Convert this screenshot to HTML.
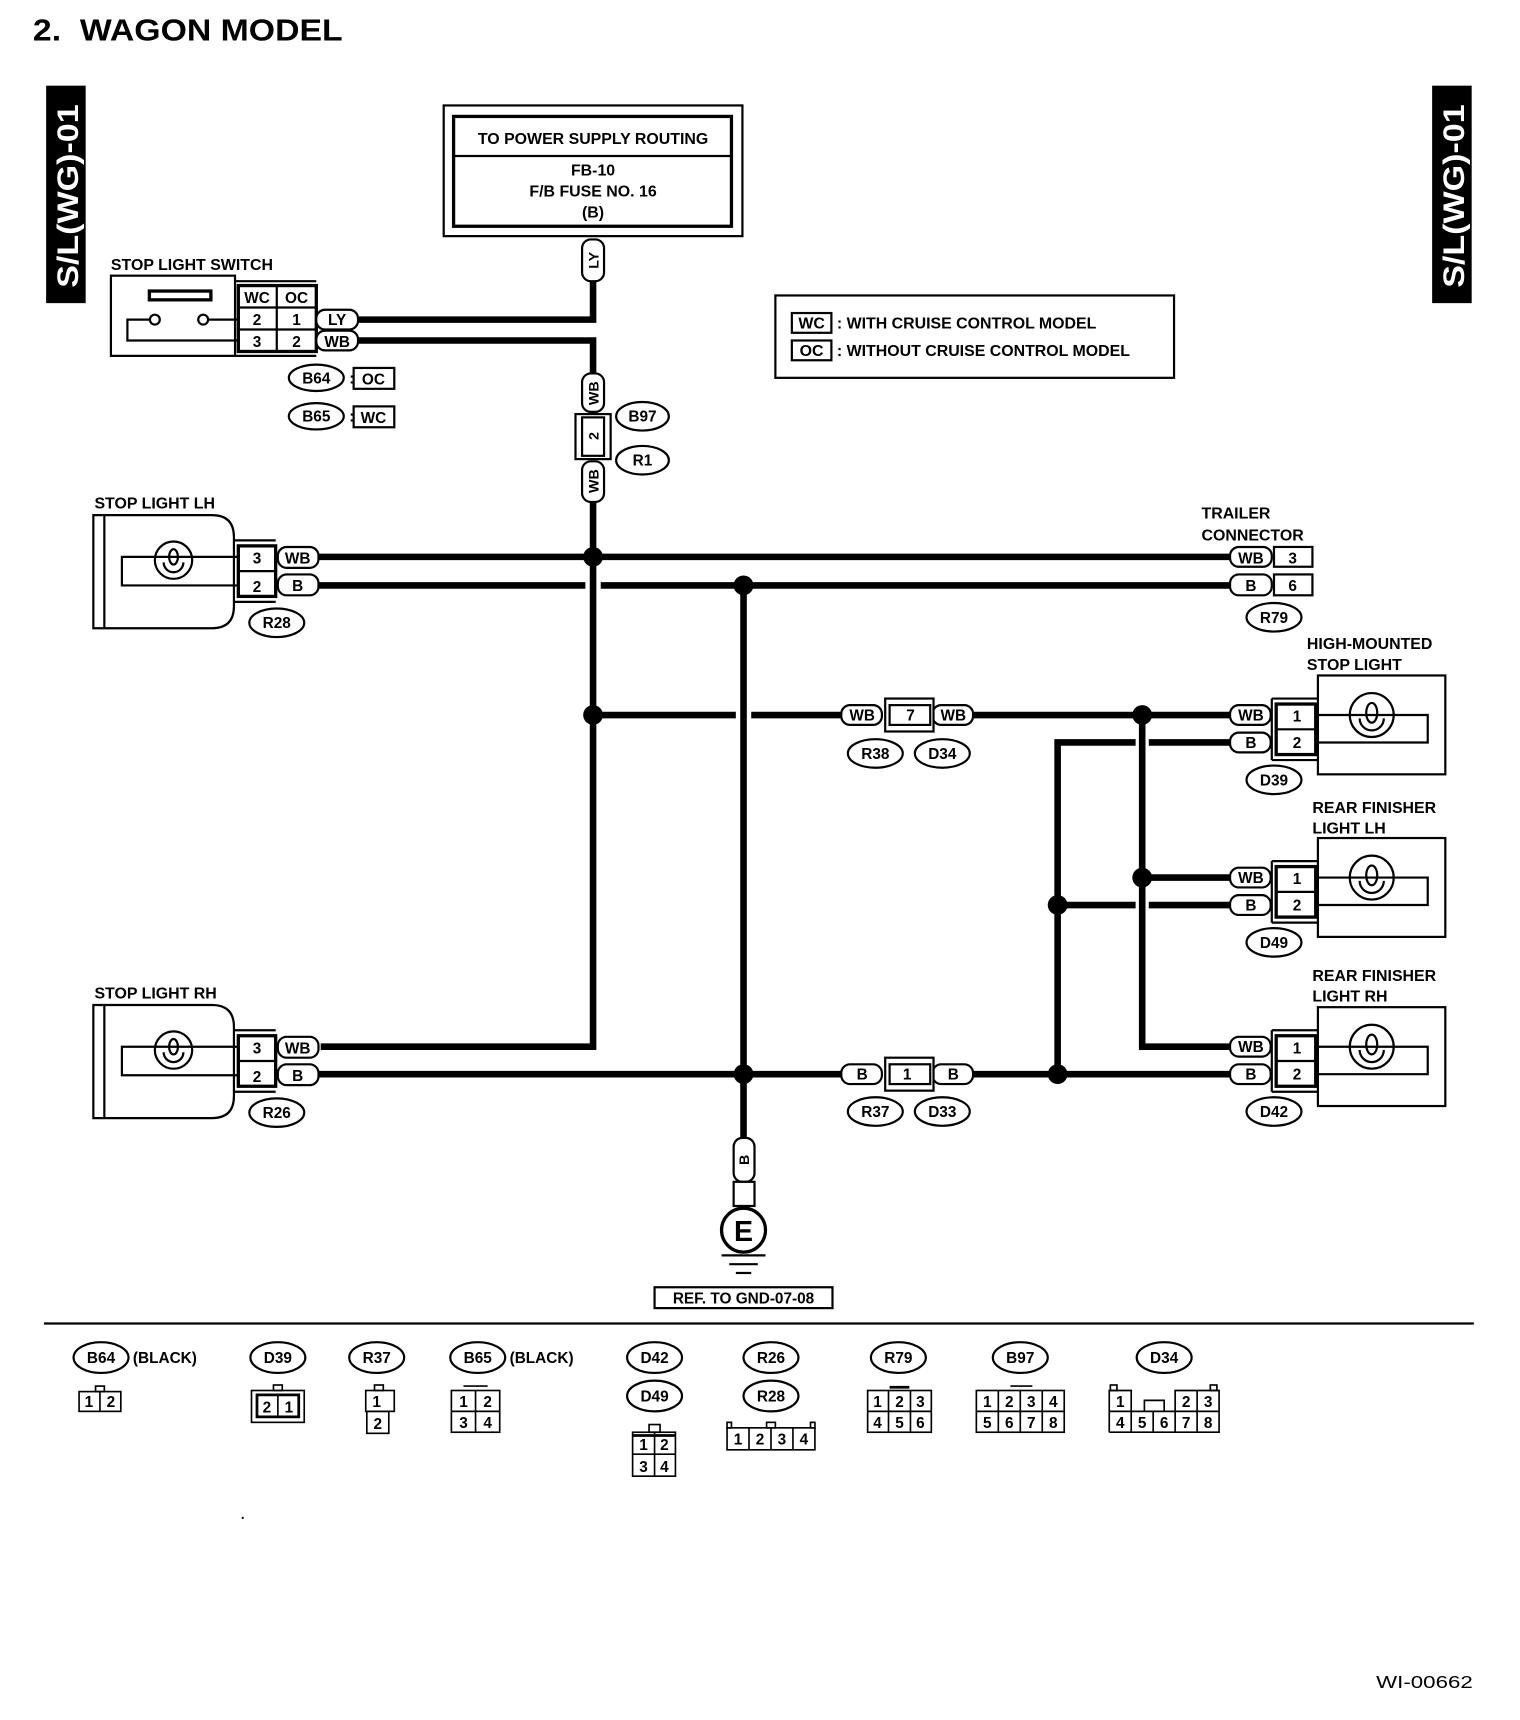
<!DOCTYPE html>
<html><head><meta charset="utf-8"><style>
html,body{margin:0;padding:0;background:#fff;}
svg{display:block;}
text{font-family:"Liberation Sans",Arial,sans-serif;font-weight:bold;fill:#000;}
</style></head><body>
<svg width="1520" height="1720" viewBox="0 0 1384 1566" preserveAspectRatio="none" xmlns="http://www.w3.org/2000/svg">
<rect width="1384" height="1566" fill="#fff"/>
<text x="30" y="37" font-size="28" textLength="282" lengthAdjust="spacingAndGlyphs" xml:space="preserve">2.  WAGON MODEL</text>

<!-- side tabs -->
<rect x="42" y="78" width="36" height="198" fill="#000"/>
<text transform="translate(71,262) rotate(-90)" font-size="27" textLength="167" lengthAdjust="spacingAndGlyphs" style="fill:#fff">S/L(WG)-01</text>
<rect x="1304" y="78" width="36" height="198" fill="#000"/>
<text transform="translate(1333,262) rotate(-90)" font-size="27" textLength="167" lengthAdjust="spacingAndGlyphs" style="fill:#fff">S/L(WG)-01</text>

<g fill="none" stroke="#000">
<rect x="404" y="96" width="272" height="119" stroke-width="2"/>
<rect x="413" y="106" width="253" height="100" stroke-width="3"/>
<line x1="413" y1="142" x2="666" y2="142" stroke-width="2"/>
<rect x="706" y="269" width="363" height="75" stroke-width="2"/>
<rect x="721" y="285" width="36" height="18" stroke-width="2"/>
<rect x="721" y="310" width="36" height="18" stroke-width="2"/>
</g>
<g font-size="14.5" text-anchor="middle">
<text x="540" y="131">TO POWER SUPPLY ROUTING</text>
<text x="540" y="160">FB-10</text>
<text x="540" y="179">F/B FUSE NO. 16</text>
<text x="540" y="198">(B)</text>
<text x="739" y="299">WC</text>
<text x="739" y="324">OC</text>
</g>
<g font-size="14.5">
<text x="762" y="299">: WITH CRUISE CONTROL MODEL</text>
<text x="762" y="324">: WITHOUT CRUISE CONTROL MODEL</text>
</g>

<!-- WIRES -->
<g stroke="#000" stroke-width="6" fill="none">
<polyline points="540,256 540,291 325,291"/>
<polyline points="325,310 540,310 540,340"/>
<polyline points="540,457 540,953 292,953"/>
<line x1="290" y1="507" x2="1120" y2="507"/>
<line x1="290" y1="533" x2="533" y2="533"/>
<line x1="547" y1="533" x2="1120" y2="533"/>
<line x1="540" y1="651" x2="670" y2="651"/>
<line x1="684" y1="651" x2="766" y2="651"/>
<line x1="886" y1="651" x2="1120" y2="651"/>
<polyline points="1040,651 1040,953 1120,953"/>
<line x1="1040" y1="799" x2="1120" y2="799"/>
<polyline points="1120,676 1046,676"/>
<polyline points="1034,676 963,676 963,978"/>
<line x1="963" y1="824" x2="1034" y2="824"/>
<line x1="1046" y1="824" x2="1120" y2="824"/>
<line x1="290" y1="978" x2="766" y2="978"/>
<line x1="886" y1="978" x2="1120" y2="978"/>
<line x1="677" y1="533" x2="677" y2="1036"/>
</g>
<g fill="#000">
<circle cx="540" cy="507" r="9"/><circle cx="677" cy="533" r="9"/>
<circle cx="540" cy="651" r="9"/><circle cx="1040" cy="651" r="9"/>
<circle cx="1040" cy="799" r="9"/><circle cx="963" cy="824" r="9"/>
<circle cx="963" cy="978" r="9"/><circle cx="677" cy="978" r="9"/>
</g>

<g fill="#fff" stroke="#000" stroke-width="2">
<rect x="530" y="218" width="20" height="38" rx="8"/>
<rect x="530" y="340" width="20" height="35" rx="8"/>
<rect x="530" y="420" width="20" height="37" rx="8"/>
<rect x="524" y="377" width="32" height="41"/>
<rect x="530" y="380" width="20" height="35"/>
<rect x="668" y="1036" width="19" height="40" rx="8"/>
<rect x="668" y="1076" width="19" height="22"/>
</g>
<g font-size="13" text-anchor="middle">
<text transform="translate(545,237) rotate(-90)">LY</text>
<text transform="translate(545,358) rotate(-90)">WB</text>
<text transform="translate(545,438) rotate(-90)">WB</text>
<text transform="translate(545,397) rotate(-90)">2</text>
<text transform="translate(682,1056) rotate(-90)">B</text>
</g>

<!-- STOP LIGHT SWITCH -->
<text x="101" y="246" font-size="14.5">STOP LIGHT SWITCH</text>
<g fill="none" stroke="#000" stroke-width="2">
<rect x="101" y="251" width="113" height="73"/>
<rect x="136" y="265" width="56" height="8" stroke-width="3"/>
<circle cx="141" cy="291" r="4.5"/><circle cx="185" cy="291" r="4.5"/>
<polyline points="136,291 116,291 116,310 216,310"/>
<line x1="190" y1="291" x2="216" y2="291"/>
<rect x="217" y="260" width="71" height="60" stroke-width="3"/>
<line x1="217" y1="280" x2="288" y2="280"/><line x1="217" y1="300" x2="288" y2="300"/>
<line x1="252" y1="260" x2="252" y2="320"/>
<line x1="214" y1="256" x2="288" y2="256"/><line x1="214" y1="324" x2="288" y2="324"/>
</g>
<g fill="#fff" stroke="#000" stroke-width="2">
<rect x="288" y="282" width="38" height="18" rx="8"/>
<rect x="288" y="301" width="38" height="18" rx="8"/>
</g>
<g font-size="14" text-anchor="middle">
<text x="234" y="276">WC</text><text x="270" y="276">OC</text>
<text x="234" y="296">2</text><text x="270" y="296">1</text>
<text x="234" y="316">3</text><text x="270" y="316">2</text>
<text x="307" y="296">LY</text><text x="307" y="316">WB</text>
</g>

<g fill="#fff" stroke="#000" stroke-width="2">
<ellipse cx="288" cy="344" rx="25" ry="12"/><ellipse cx="288" cy="379" rx="25" ry="12"/>
<rect x="322" y="335" width="37" height="19"/><rect x="322" y="370" width="37" height="19"/>
<ellipse cx="585" cy="379" rx="24" ry="13"/><ellipse cx="585" cy="419" rx="24" ry="13"/>
<ellipse cx="252" cy="567" rx="25" ry="13"/><ellipse cx="252" cy="1013" rx="25" ry="13"/>
<ellipse cx="1160" cy="562" rx="25" ry="13"/><ellipse cx="1160" cy="710" rx="25" ry="13"/>
<ellipse cx="1160" cy="858" rx="25" ry="13"/><ellipse cx="1160" cy="1012" rx="25" ry="13"/>
<ellipse cx="797" cy="686" rx="25" ry="13"/><ellipse cx="858" cy="686" rx="25" ry="13"/>
<ellipse cx="797" cy="1012" rx="25" ry="13"/><ellipse cx="858" cy="1012" rx="25" ry="13"/>
</g>
<g font-size="14" text-anchor="middle">
<text x="288" y="349">B64</text><text x="288" y="384">B65</text>
<text x="340" y="350">OC</text><text x="340" y="385">WC</text>
<text x="585" y="384">B97</text><text x="585" y="424">R1</text>
<text x="252" y="572">R28</text><text x="252" y="1018">R26</text>
<text x="1160" y="567">R79</text><text x="1160" y="715">D39</text>
<text x="1160" y="863">D49</text><text x="1160" y="1017">D42</text>
<text x="797" y="691">R38</text><text x="858" y="691">D34</text>
<text x="797" y="1017">R37</text><text x="858" y="1017">D33</text>
</g>
<text x="318" y="349" font-size="14">:</text><text x="318" y="384" font-size="14">:</text>

<g id="slh">
<g fill="none" stroke="#000" stroke-width="2">
<path d="M85,469 H193 Q213,469 213,489 V552 Q213,572 193,572 H85 Z"/>
<line x1="95" y1="469" x2="95" y2="572"/>
<polyline points="216,507 111,507 111,533 216,533"/>
<circle cx="158" cy="510" r="17"/>
<path d="M149,512 a9,9 0 0 0 18,0"/>
<ellipse cx="158" cy="507" rx="4" ry="7"/>
<rect x="217" y="497" width="34" height="46" stroke-width="3"/>
<line x1="217" y1="520" x2="251" y2="520"/>
<line x1="213" y1="492" x2="251" y2="492"/><line x1="213" y1="548" x2="251" y2="548"/>
</g>
<g fill="#fff" stroke="#000" stroke-width="2">
<rect x="253" y="498" width="37" height="19" rx="8"/>
<rect x="253" y="523" width="37" height="19" rx="8"/>
</g>
<g font-size="14" text-anchor="middle">
<text x="234" y="513">3</text><text x="234" y="539">2</text>
<text x="271" y="513">WB</text><text x="271" y="538">B</text>
</g>
</g>
<use href="#slh" transform="translate(0,446)"/>
<text x="86" y="463" font-size="14.5">STOP LIGHT LH</text>
<text x="86" y="909" font-size="14.5">STOP LIGHT RH</text>

<text x="1094" y="472" font-size="14.5">TRAILER</text>
<text x="1094" y="492" font-size="14.5">CONNECTOR</text>
<g fill="#fff" stroke="#000" stroke-width="2">
<rect x="1120" y="498" width="38" height="18" rx="8"/>
<rect x="1120" y="523" width="38" height="19" rx="8"/>
<rect x="1160" y="498" width="35" height="18"/>
<rect x="1160" y="523" width="35" height="19"/>
</g>
<g font-size="14" text-anchor="middle">
<text x="1139" y="513">WB</text><text x="1139" y="538">B</text>
<text x="1177" y="513">3</text><text x="1177" y="538">6</text>
</g>

<g fill="#fff" stroke="#000" stroke-width="2">
<rect x="766" y="642" width="37" height="18" rx="8"/>
<rect x="849" y="642" width="37" height="18" rx="8"/>
<rect x="806" y="636" width="44" height="30"/>
<rect x="810" y="642" width="37" height="18"/>
<rect x="766" y="969" width="37" height="18" rx="8"/>
<rect x="849" y="969" width="37" height="18" rx="8"/>
<rect x="806" y="963" width="44" height="30"/>
<rect x="810" y="969" width="37" height="18"/>
</g>
<g font-size="14" text-anchor="middle">
<text x="785" y="656">WB</text><text x="829" y="656">7</text><text x="868" y="656">WB</text>
<text x="785" y="983">B</text><text x="826" y="983">1</text><text x="868" y="983">B</text>
</g>

<g id="rl">
<g fill="none" stroke="#000" stroke-width="2">
<rect x="1200" y="615" width="116" height="90"/>
<polyline points="1198,651 1300,651 1300,676 1200,676"/>
<circle cx="1249" cy="651" r="20"/>
<path d="M1238,654 a11,11 0 0 0 22,0"/>
<ellipse cx="1249" cy="649" rx="5" ry="9"/>
<rect x="1162" y="641" width="36" height="46" stroke-width="3"/>
<line x1="1162" y1="664" x2="1198" y2="664"/>
<line x1="1158" y1="636" x2="1200" y2="636"/><line x1="1158" y1="692" x2="1200" y2="692"/>
<line x1="1158" y1="636" x2="1158" y2="692"/>
</g>
<g fill="#fff" stroke="#000" stroke-width="2">
<rect x="1120" y="642" width="37" height="18" rx="8"/>
<rect x="1120" y="667" width="37" height="18" rx="8"/>
</g>
<g font-size="14" text-anchor="middle">
<text x="1139" y="656">WB</text><text x="1139" y="681">B</text>
<text x="1181" y="657">1</text><text x="1181" y="681">2</text>
</g>
</g>
<use href="#rl" transform="translate(0,148)"/>
<use href="#rl" transform="translate(0,302)"/>
<g font-size="14.5">
<text x="1190" y="591">HIGH-MOUNTED</text><text x="1190" y="610">STOP LIGHT</text>
<text x="1195" y="740">REAR FINISHER</text><text x="1195" y="759">LIGHT LH</text>
<text x="1195" y="893">REAR FINISHER</text><text x="1195" y="912">LIGHT RH</text>
</g>

<circle cx="677" cy="1120" r="20" fill="#fff" stroke="#000" stroke-width="3"/>
<text x="677" y="1130" font-size="26" text-anchor="middle">E</text>
<g stroke="#000" stroke-width="2">
<line x1="657" y1="1143" x2="697" y2="1143"/>
<line x1="664" y1="1151" x2="690" y2="1151"/>
<line x1="670" y1="1159" x2="684" y2="1159"/>
</g>
<rect x="596" y="1172" width="162" height="19" fill="#fff" stroke="#000" stroke-width="2"/>
<text x="677" y="1187" font-size="14" text-anchor="middle">REF. TO GND-07-08</text>

<line x1="40" y1="1205" x2="1342" y2="1205" stroke="#000" stroke-width="2"/>

<g fill="#fff" stroke="#000" stroke-width="2">
<ellipse cx="92" cy="1236" rx="25" ry="14"/><ellipse cx="253" cy="1236" rx="25" ry="14"/>
<ellipse cx="343" cy="1236" rx="25" ry="14"/><ellipse cx="435" cy="1236" rx="25" ry="14"/>
<ellipse cx="596" cy="1236" rx="25" ry="14"/><ellipse cx="596" cy="1271" rx="25" ry="14"/>
<ellipse cx="702" cy="1236" rx="25" ry="14"/><ellipse cx="702" cy="1271" rx="25" ry="14"/>
<ellipse cx="818" cy="1236" rx="25" ry="14"/><ellipse cx="929" cy="1236" rx="25" ry="14"/>
<ellipse cx="1060" cy="1236" rx="25" ry="14"/>
</g>
<g font-size="14" text-anchor="middle">
<text x="92" y="1241">B64</text><text x="253" y="1241">D39</text><text x="343" y="1241">R37</text>
<text x="435" y="1241">B65</text><text x="596" y="1241">D42</text><text x="596" y="1276">D49</text>
<text x="702" y="1241">R26</text><text x="702" y="1276">R28</text><text x="818" y="1241">R79</text>
<text x="929" y="1241">B97</text><text x="1060" y="1241">D34</text>
</g>
<text x="121" y="1241" font-size="14">(BLACK)</text>
<text x="464" y="1241" font-size="14">(BLACK)</text>

<g fill="none" stroke="#000" stroke-width="1.5">
<rect x="72" y="1267" width="38" height="18"/><line x1="91" y1="1267" x2="91" y2="1285"/>
<rect x="87" y="1262" width="8" height="5"/>
<rect x="229" y="1266" width="48" height="29"/><rect x="234" y="1270" width="38" height="20" stroke-width="2.5"/>
<line x1="253" y1="1270" x2="253" y2="1290"/><rect x="249" y="1261" width="8" height="5"/>
<rect x="333" y="1266" width="26" height="19"/><rect x="334" y="1285" width="20" height="20"/>
<rect x="341" y="1261" width="8" height="5"/>
<rect x="411" y="1266" width="44" height="38"/><line x1="433" y1="1266" x2="433" y2="1304"/>
<line x1="411" y1="1285" x2="455" y2="1285"/><line x1="422" y1="1262" x2="444" y2="1262"/>
<rect x="576" y="1304" width="39" height="40"/><line x1="596" y1="1304" x2="596" y2="1344"/>
<line x1="576" y1="1324" x2="615" y2="1324"/><line x1="576" y1="1307" x2="615" y2="1307" stroke-width="2.5"/>
<rect x="591" y="1297" width="10" height="7"/>
<rect x="662" y="1300" width="80" height="20"/>
<line x1="682" y1="1300" x2="682" y2="1320"/><line x1="702" y1="1300" x2="702" y2="1320"/><line x1="722" y1="1300" x2="722" y2="1320"/>
<rect x="662" y="1295" width="4" height="5"/><rect x="698" y="1295" width="8" height="5"/><rect x="738" y="1295" width="4" height="5"/>
<rect x="790" y="1266" width="58" height="38"/><line x1="809" y1="1266" x2="809" y2="1304"/><line x1="829" y1="1266" x2="829" y2="1304"/>
<line x1="790" y1="1285" x2="848" y2="1285"/><line x1="810" y1="1263" x2="828" y2="1263" stroke-width="2.5"/>
<rect x="889" y="1266" width="80" height="38"/>
<line x1="909" y1="1266" x2="909" y2="1304"/><line x1="929" y1="1266" x2="929" y2="1304"/><line x1="949" y1="1266" x2="949" y2="1304"/>
<line x1="889" y1="1285" x2="969" y2="1285"/><line x1="920" y1="1262" x2="940" y2="1262"/>
<polyline points="1010,1304 1010,1266 1030,1266 1030,1285"/>
<polyline points="1070,1285 1070,1266 1110,1266 1110,1304 1010,1304"/>
<line x1="1010" y1="1285" x2="1110" y2="1285"/>
<line x1="1030" y1="1285" x2="1030" y2="1304"/><line x1="1050" y1="1285" x2="1050" y2="1304"/>
<line x1="1070" y1="1285" x2="1070" y2="1304"/><line x1="1090" y1="1266" x2="1090" y2="1304"/>
<polyline points="1042,1285 1042,1275 1060,1275 1060,1285"/>
<rect x="1011" y="1261" width="6" height="5"/><rect x="1102" y="1261" width="6" height="5"/>
</g>
<g font-size="14" text-anchor="middle" style="font-weight:normal">
<text x="81" y="1281">1</text><text x="101" y="1281">2</text>
<text x="243" y="1286">2</text><text x="263" y="1286">1</text>
<text x="343" y="1281">1</text><text x="344" y="1301">2</text>
<text x="422" y="1281">1</text><text x="444" y="1281">2</text><text x="422" y="1300">3</text><text x="444" y="1300">4</text>
<text x="586" y="1320">1</text><text x="605" y="1320">2</text><text x="586" y="1340">3</text><text x="605" y="1340">4</text>
<text x="672" y="1315">1</text><text x="692" y="1315">2</text><text x="712" y="1315">3</text><text x="732" y="1315">4</text>
<text x="799" y="1281">1</text><text x="819" y="1281">2</text><text x="838" y="1281">3</text>
<text x="799" y="1300">4</text><text x="819" y="1300">5</text><text x="838" y="1300">6</text>
<text x="899" y="1281">1</text><text x="919" y="1281">2</text><text x="939" y="1281">3</text><text x="959" y="1281">4</text>
<text x="899" y="1300">5</text><text x="919" y="1300">6</text><text x="939" y="1300">7</text><text x="959" y="1300">8</text>
<text x="1020" y="1281">1</text><text x="1080" y="1281">2</text><text x="1100" y="1281">3</text>
<text x="1020" y="1300">4</text><text x="1040" y="1300">5</text><text x="1060" y="1300">6</text><text x="1080" y="1300">7</text><text x="1100" y="1300">8</text>
</g>
<circle cx="221" cy="1382" r="1" fill="#000"/>
<text x="1253" y="1537" font-size="16" textLength="88" lengthAdjust="spacingAndGlyphs" style="font-weight:normal">WI-00662</text>
</svg>
</body></html>
